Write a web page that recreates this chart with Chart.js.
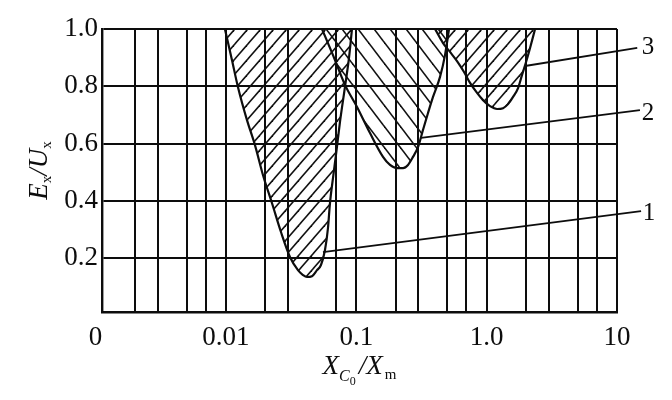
<!DOCTYPE html>
<html><head><meta charset="utf-8">
<script src="https://cdn.jsdelivr.net/npm/chart.js@4"></script>
<style>html,body{margin:0;padding:0;background:#fff}canvas{display:block}</style>
</head><body>
<canvas id="c" width="672" height="400"></canvas>
<script>
// ---- data ----
const curve1X = [0.00982, 0.01112, 0.01236, 0.01449, 0.01670, 0.01923, 0.02254, 0.02643, 0.03099, 0.03569, 0.03899, 0.04183, 0.04571, 0.04994, 0.05359, 0.05752, 0.06064, 0.06283, 0.06624, 0.06985, 0.07497, 0.08189, 0.08790, 0.09268];
const curve1Y = [1.0, 0.892, 0.798, 0.683, 0.595, 0.491, 0.393, 0.292, 0.205, 0.159, 0.142, 0.135, 0.138, 0.159, 0.177, 0.229, 0.306, 0.393, 0.480, 0.561, 0.676, 0.798, 0.899, 1.0];
const curve2X = [0.05455, 0.06624, 0.08189, 0.1013, 0.1274, 0.1603, 0.1814, 0.2053, 0.2283, 0.2493, 0.2723, 0.2975, 0.3249, 0.3550, 0.3878, 0.4389, 0.4794, 0.5145];
const curve2Y = [1.0, 0.909, 0.805, 0.728, 0.637, 0.554, 0.526, 0.515, 0.515, 0.526, 0.554, 0.588, 0.648, 0.707, 0.763, 0.833, 0.909, 1.0];
const curve3X = [0.4018, 0.4628, 0.5237, 0.5926, 0.6707, 0.7461, 0.8440, 0.9384, 1.062, 1.202, 1.336, 1.459, 1.594, 1.742, 1.869, 2.006, 2.153, 2.352];
const curve3Y = [1.0, 0.951, 0.920, 0.888, 0.850, 0.812, 0.777, 0.752, 0.731, 0.721, 0.724, 0.738, 0.763, 0.794, 0.840, 0.885, 0.934, 1.0];

const leader1X = [0.0555, 15.3], leader1Y = [0.222, 0.365];
const leader2X = [0.3136, 15.0], leader2Y = [0.620, 0.717];
const leader3X = [1.971, 14.3],  leader3Y = [0.871, 0.934];

const calloutText = ['1', '2', '3'];
const calloutX = [17.6, 17.3, 17.3];
const calloutY = [0.358, 0.707, 0.937];

const xMin = 0.00112, xMax = 10;
const xGridValues = [0.001, 0.002, 0.003, 0.005, 0.007, 0.01, 0.02, 0.03, 0.07, 0.1, 0.2, 0.3, 0.5, 0.7, 1, 2, 3, 5, 7, 10];
const xLabelValues = [0.001, 0.01, 0.1, 1, 10];
const xLabelTexts = ['0', '0.01', '0.1', '1.0', '10'];
const yMin = 0.013, yMax = 1.0;
const yTickValues = [0.2, 0.4, 0.6, 0.8, 1.0];
const yTickTexts = ['0.2', '0.4', '0.6', '0.8', '1.0'];

// ---- helpers ----
const INK = '#0d0d0d';
const pts = (xs, ys) => xs.map((x, i) => ({x, y: ys[i]}));

function hatch(dir, w, h) {
  const c = document.createElement('canvas');
  c.width = w; c.height = h;
  const g = c.getContext('2d');
  g.strokeStyle = '#111';
  g.lineWidth = 1.6;
  for (const k of [-1, 0, 1, 2]) {
    const cc = k * w;
    g.beginPath();
    if (dir === '/') { g.moveTo(cc - 2 * w, 2 * h); g.lineTo(cc + w, -h); }
    else { g.moveTo(cc - w, -h); g.lineTo(cc + 2 * w, 2 * h); }
    g.stroke();
  }
  return g.createPattern(c, 'repeat');
}

const curveDs = (xs, ys, pattern) => ({
  data: pts(xs, ys), borderColor: INK, borderWidth: 2.2, pointRadius: 0,
  fill: 'end', backgroundColor: pattern, cubicInterpolationMode: 'monotone'
});
const leaderDs = (xs, ys) => ({
  data: pts(xs, ys), borderColor: INK, borderWidth: 1.8, pointRadius: 0,
  fill: false, clip: false
});

const richPlugin = {
  id: 'rich',
  afterDraw(chart) {
    const {ctx, chartArea, scales} = chart;
    const measure = segs => segs.reduce((t, s) => { ctx.font = s.font; s.w = ctx.measureText(s.t).width; return t + s.w + (s.gap || 0); }, 0);
    const draw = (segs, cx, by) => {
      const total = measure(segs);
      let x = cx - total / 2;
      segs.forEach(s => { ctx.font = s.font; ctx.fillText(s.t, x, by + (s.dy || 0)); x += s.w + (s.gap || 0); });
    };
    ctx.save();
    ctx.fillStyle = INK;
    ctx.textAlign = 'left';
    ctx.textBaseline = 'alphabetic';
    const F = 'Liberation Serif';
    // x title
    draw([
      {t: 'X', font: `italic 27px "${F}"`},
      {t: 'C', font: `italic 16px "${F}"`, dy: 7},
      {t: '0', font: `12px "${F}"`, dy: 11, gap: 3},
      {t: '/X', font: `italic 27px "${F}"`, gap: 2},
      {t: 'm', font: `15px "${F}"`, dy: 5}
    ], (chartArea.left + chartArea.right) / 2, 374);
    // y title (rotated)
    ctx.save();
    ctx.translate(47, (chartArea.top + chartArea.bottom) / 2);
    ctx.rotate(-Math.PI / 2);
    draw([
      {t: 'E', font: `italic 27px "${F}"`},
      {t: 'x', font: `15px "${F}"`, dy: 4},
      {t: '/U', font: `italic 27px "${F}"`},
      {t: 'x', font: `15px "${F}"`, dy: 4}
    ], 0, 0);
    ctx.restore();
    // callout numbers
    ctx.font = `25px "${F}"`;
    ctx.textAlign = 'center';
    ctx.textBaseline = 'middle';
    calloutText.forEach((t, i) => {
      ctx.fillText(t, scales.x.getPixelForValue(calloutX[i]), scales.y.getPixelForValue(calloutY[i]));
    });
    ctx.restore();
  }
};

new Chart(document.getElementById('c'), {
  type: 'line',
  data: {
    datasets: [
      curveDs(curve1X, curve1Y, hatch('/', 13, 15)),
      curveDs(curve2X, curve2Y, hatch('\\', 16, 21)),
      curveDs(curve3X, curve3Y, hatch('/', 13, 15)),
      leaderDs(leader1X, leader1Y),
      leaderDs(leader2X, leader2Y),
      leaderDs(leader3X, leader3Y)
    ]
  },
  options: {
    responsive: false,
    animation: false,
    events: [],
    layout: {padding: {left: 0, top: 29, right: 55, bottom: 0}},
    plugins: {legend: {display: false}, tooltip: {enabled: false}},
    scales: {
      x: {
        type: 'logarithmic', min: xMin, max: xMax, bounds: 'data',
        afterBuildTicks: s => { s.ticks = xGridValues.map(v => ({value: v})); },
        afterFit: s => { s.height = 88; },
        ticks: {
          autoSkip: false, maxRotation: 0, padding: 10, color: INK,
          font: {family: 'Liberation Serif', size: 27},
          callback: v => { const i = xLabelValues.indexOf(v); return i >= 0 ? xLabelTexts[i] : ''; }
        },
        grid: {
          drawTicks: false, lineWidth: 2,
          color: c => (c.tick && c.tick.value < xMin) ? 'rgba(0,0,0,0)' : INK
        },
        border: {display: true, color: INK, width: 2.4}
      },
      y: {
        type: 'linear', min: yMin, max: yMax,
        afterBuildTicks: s => { s.ticks = yTickValues.map(v => ({value: v})); },
        afterFit: s => { s.width = 102; },
        ticks: {
          padding: 4, color: INK,
          font: {family: 'Liberation Serif', size: 27},
          callback: v => { const i = yTickValues.indexOf(v); return i >= 0 ? yTickTexts[i] : ''; }
        },
        grid: {drawTicks: false, lineWidth: 2, color: INK},
        border: {display: true, color: INK, width: 2.4}
      }
    }
  },
  plugins: [richPlugin]
});
</script>
</body></html>
